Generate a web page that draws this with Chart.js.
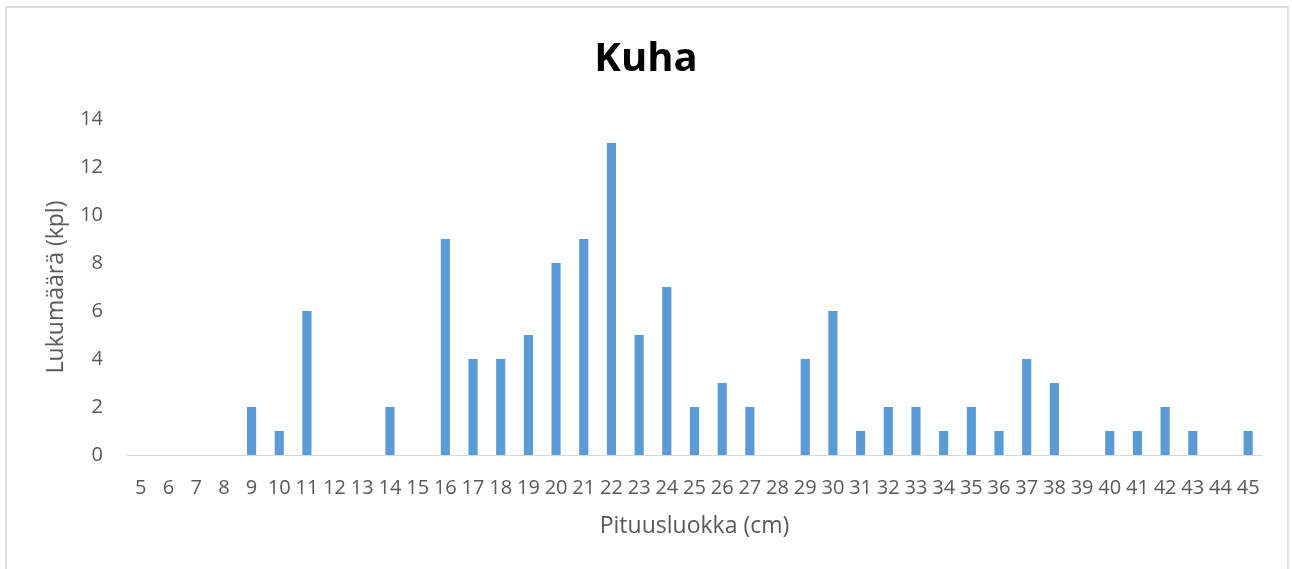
<!DOCTYPE html>
<html>
<head>
<meta charset="utf-8">
<script src="https://cdn.jsdelivr.net/npm/chart.js@4.4.1/dist/chart.umd.min.js"></script>
<style>
  html, body { margin: 0; padding: 0; background: #ffffff; overflow: hidden; }
  #wrap { position: relative; width: 1292px; height: 569px; }
  #frame { position: absolute; left: 5px; top: 6px; width: 1284px; height: 620px; border: 2px solid #dedede; box-sizing: border-box; }
  canvas { position: absolute; left: 0; top: 0; }
</style>
</head>
<body>
<div id="wrap">
  <div id="frame"></div>
  <canvas id="c" width="1292" height="569"></canvas>
</div>
<script>
const titleText = "Kuha";
const xTitle = "Pituusluokka (cm)";
const yTitle = "Lukumäärä (kpl)";
const categories = ["5","6","7","8","9","10","11","12","13","14","15","16","17","18","19","20","21","22","23","24","25","26","27","28","29","30","31","32","33","34","35","36","37","38","39","40","41","42","43","44","45"];
const counts = [0,0,0,0,2,1,6,0,0,2,0,9,4,4,5,8,9,13,5,7,2,3,2,0,4,6,1,2,2,1,2,1,4,3,0,1,1,2,1,0,1];
const yMin = 0, yMax = 14, yStep = 2;

const tickColor = "#595959";
const fontFamily = "'Open Sans', 'Noto Sans', sans-serif";

new Chart(document.getElementById("c"), {
  type: "bar",
  data: {
    labels: categories,
    datasets: [{
      data: counts,
      backgroundColor: "#5b9bd5",
      borderWidth: 0,
      categoryPercentage: 1.0,
      barPercentage: 0.33,
      yAxisID: "y"
    }]
  },
  options: {
    responsive: false,
    devicePixelRatio: 1,
    animation: false,
    layout: { padding: { left: 0, right: 0, top: 0, bottom: 0 } },
    plugins: {
      legend: { display: false },
      tooltip: { enabled: false },
      title: {
        display: true,
        text: titleText,
        color: "#000000",
        font: { family: fontFamily, size: 40, weight: "bold" },
        padding: { top: 36, bottom: 35 }
      }
    },
    scales: {
      x: {
        grid: { display: false, drawTicks: false },
        border: { display: true, color: "#d9d9d9", width: 1 },
        ticks: {
          color: tickColor,
          font: { family: fontFamily, size: 20 },
          padding: 21,
          autoSkip: false,
          maxRotation: 0,
          minRotation: 0
        },
        title: {
          display: true,
          text: xTitle,
          color: tickColor,
          font: { family: fontFamily, size: 23 },
          padding: { top: 0, bottom: 29 }
        },
        afterFit: (s) => { s.height = 114; }
      },
      y: {
        min: yMin,
        max: yMax,
        grid: { display: false, drawTicks: false },
        border: { display: false },
        ticks: {
          stepSize: yStep,
          color: tickColor,
          font: { family: fontFamily, size: 20 },
          padding: 24
        },
        title: {
          display: true,
          text: yTitle,
          color: tickColor,
          font: { family: fontFamily, size: 23 },
          padding: { top: 43, bottom: 0 }
        },
        afterFit: (s) => { s.width = 127; }
      },
      spacer: {
        position: "right",
        display: true,
        grid: { display: false, drawTicks: false },
        border: { display: false },
        ticks: { display: false },
        afterFit: (s) => { s.width = 30; }
      }
    }
  }
});
</script>
</body>
</html>
